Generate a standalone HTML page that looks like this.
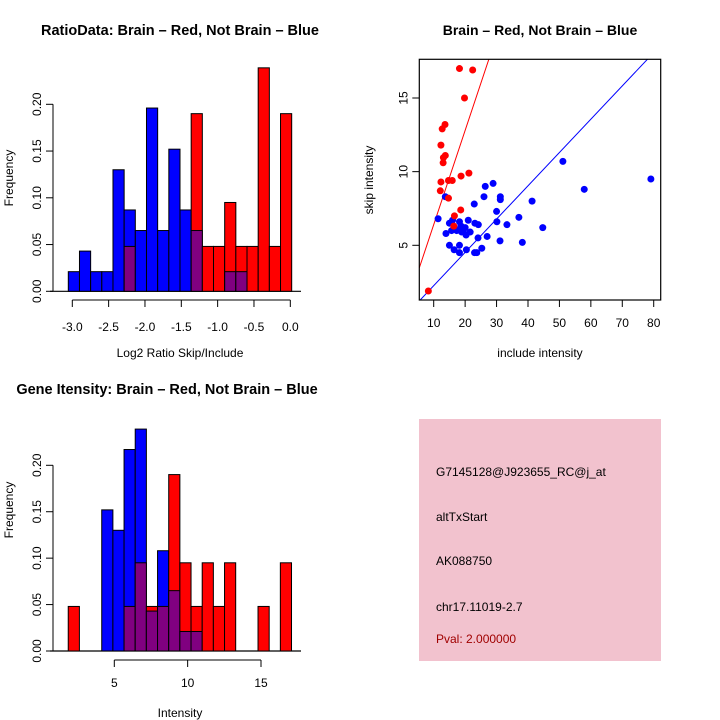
<!DOCTYPE html>
<html><head><meta charset="utf-8"><style>
html,body{margin:0;padding:0;background:#fff;}
svg{display:block;font-family:"Liberation Sans",sans-serif;}
</style></head><body>
<svg id="c" width="720" height="720" viewBox="0 0 720 720">
<rect x="0" y="0" width="720" height="720" fill="#fff"/>
<text x="180" y="35" text-anchor="middle" font-size="14.5" font-weight="bold">RatioData: Brain – Red, Not Brain – Blue</text>
<text x="540" y="35" text-anchor="middle" font-size="14" font-weight="bold">Brain – Red, Not Brain – Blue</text>
<text x="167" y="394" text-anchor="middle" font-size="14.5" font-weight="bold">Gene Itensity: Brain – Red, Not Brain – Blue</text>
<text x="180" y="357" text-anchor="middle" font-size="12">Log2 Ratio Skip/Include</text>
<text transform="translate(13,178) rotate(-90)" text-anchor="middle" font-size="12">Frequency</text>
<text x="180" y="717" text-anchor="middle" font-size="12">Intensity</text>
<text transform="translate(13,510) rotate(-90)" text-anchor="middle" font-size="12">Frequency</text>
<text x="540" y="357" text-anchor="middle" font-size="12">include intensity</text>
<text transform="translate(373,180) rotate(-90)" text-anchor="middle" font-size="12">skip intensity</text>
<g>
<rect x="419" y="419" width="242" height="242" fill="#f2c2ce"/>
<text x="436" y="476" font-size="12">G7145128@J923655_RC@j_at</text>
<text x="436" y="521" font-size="12">altTxStart</text>
<text x="436" y="565" font-size="12">AK088750</text>
<text x="436" y="611" font-size="12">chr17.11019-2.7</text>
<text x="436" y="643" font-size="12" fill="#a00000">Pval: 2.000000</text>
</g>
<g id="g1"></g><g id="g2"></g><g id="g3"></g>
</svg>
<script>
// Ratio histogram data
const ratioBinStart = -3.055;
const ratioBinWidth = 0.1537;
const ratioBlue = [0.021,0.043,0.021,0.021,0.130,0.087,0.065,0.196,0.065,0.152,0.087,0.065,0,0,0.021,0.021,0,0,0,0];
const ratioRed  = [0,0,0,0,0,0.048,0,0,0,0,0,0.190,0.048,0.048,0.095,0.048,0.048,0.239,0.048,0.190];
const ratioXTicks = [-3.0,-2.5,-2.0,-1.5,-1.0,-0.5,0.0];
const ratioXTickLabels = ["-3.0","-2.5","-2.0","-1.5","-1.0","-0.5","0.0"];
const freqTicks = [0,0.05,0.10,0.15,0.20];
const freqTickLabels = ["0.00","0.05","0.10","0.15","0.20"];
// Intensity histogram data
const intBinStart = 1.86;
const intBinWidth = 0.761;
const intBlue = [0,0,0,0.152,0.130,0.217,0.239,0.043,0.108,0.065,0.021,0.021,0,0,0,0,0,0,0,0];
const intRed  = [0.048,0,0,0,0,0.048,0.095,0.048,0.048,0.190,0.095,0.048,0.095,0.048,0.095,0,0,0.048,0,0.095];
const intXTicks = [5,10,15];
const intXTickLabels = ["5","10","15"];
// Scatter data
const redX = [18.2,22.4,19.8,13.6,12.7,12.3,13.7,13.1,13.0,21.2,18.7,12.3,14.7,15.9,12.1,14.7,18.6,16.6,16.4,8.3];
const redY = [17.0,16.9,15.0,13.2,12.9,11.8,11.1,10.95,10.6,9.9,9.7,9.3,9.4,9.4,8.7,8.2,7.4,7.0,6.3,1.9];
const blueX = [51.1,57.9,79.1,44.7,41.3,37.1,33.3,38.2,31.1,31.2,31.2,28.9,26.4,26.0,22.9,30.0,30.1,27.0,24.2,23.1,24.1,25.3,23.7,23.0,20.4,18.2,18.2,16.5,15.0,11.4,13.7,15.0,16.0,18.2,21.0,13.9,15.7,17.3,18.9,20.3,21.6,19.4,16.8,18.7,20.0];
const blueY = [10.7,8.8,9.5,6.2,8.0,6.9,6.4,5.2,5.3,8.1,8.3,9.2,9.0,8.3,7.8,7.3,6.6,5.6,6.4,6.5,5.5,4.8,4.5,4.5,4.7,5.0,4.5,4.7,5.0,6.8,8.3,6.5,6.7,6.6,6.7,5.8,6.0,6.0,5.9,5.7,5.9,6.0,6.1,6.3,6.2];
const scXTicks = [10,20,30,40,50,60,70,80];
const scYTicks = [5,10,15];
const redSlope = 0.64;
const blueSlope = 0.226;

const NS="http://www.w3.org/2000/svg";
function mk(parent,tag,attrs){const e=document.createElementNS(NS,tag);for(const k in attrs)e.setAttribute(k,attrs[k]);parent.appendChild(e);return e;}

function hist(g,blue,red,binStart,binW,xs,yf,xTicks,xLabels,axisY,labelY,yAxisX,baseL,baseR){
  mk(g,'line',{x1:baseL,x2:baseR,y1:yf(0),y2:yf(0),stroke:'#000','stroke-width':1.2});
  for(let i=0;i<blue.length;i++){
    const x0=xs(binStart+i*binW),x1=xs(binStart+(i+1)*binW);
    const b=blue[i],r=red[i];
    const hi=Math.max(b,r),lo=Math.min(b,r);
    if(hi>0){
      const r1=mk(g,'rect',{x:x0,y:yf(hi),width:x1-x0,height:yf(0)-yf(hi),fill:r>=b?'#ff0000':'#0000ff',stroke:'#000','stroke-width':1});
      
      
    }
    if(lo>0){
      const r2=mk(g,'rect',{x:x0,y:yf(lo),width:x1-x0,height:yf(0)-yf(lo),fill:'#800080',stroke:'#000','stroke-width':1});
      
      
    }
  }
  const xa=xs(xTicks[0]),xb=xs(xTicks[xTicks.length-1]);
  mk(g,'line',{x1:xa,x2:xb,y1:axisY,y2:axisY,stroke:'#000'});
  xTicks.forEach((t,i)=>{
    mk(g,'line',{x1:xs(t),x2:xs(t),y1:axisY,y2:axisY+7,stroke:'#000'});
    const tx=mk(g,'text',{x:xs(t),y:labelY,'text-anchor':'middle','font-size':12});
    tx.textContent=xLabels[i];
    
    
  });
  mk(g,'line',{x1:yAxisX,x2:yAxisX,y1:yf(0),y2:yf(0.2),stroke:'#000'});
  freqTicks.forEach((t,i)=>{
    mk(g,'line',{x1:yAxisX-7,x2:yAxisX,y1:yf(t),y2:yf(t),stroke:'#000'});
    const tx=mk(g,'text',{transform:`translate(${yAxisX-12},${yf(t)}) rotate(-90)`,'text-anchor':'middle','font-size':12});
    tx.textContent=freqTickLabels[i];
    
    
  });
}
// Top-left
const g1=document.getElementById('g1');


hist(g1,ratioBlue,ratioRed,ratioBinStart,ratioBinWidth,
  v=>72.3+(v+3)*72.67, v=>291.3-v*935, ratioXTicks,ratioXTickLabels,300,331,53,50,301);
// Bottom-left
const g3=document.getElementById('g3');


hist(g3,intBlue,intRed,intBinStart,intBinWidth,
  v=>114.3+(v-5)*14.67, v=>651-v*928.5, intXTicks,intXTickLabels,660,687,53,50,301);
// Scatter
const g2=document.getElementById('g2');


const sx=v=>433.7+(v-10)*3.143, sy=v=>245.3-(v-5)*14.73;
const L=419.3,R=660.7,T=59.3,B=300;
mk(g2,'defs',{}).innerHTML='<clipPath id="cp"><rect x="419.3" y="59.3" width="241.4" height="240.7"/></clipPath>';
const xmin=(L-433.7)/3.143+10, xmax=(R-433.7)/3.143+10;
const bl=mk(g2,'line',{x1:sx(xmin),y1:sy(blueSlope*xmin),x2:sx(xmax),y2:sy(blueSlope*xmax),stroke:'#0000ff','clip-path':'url(#cp)'});


const rl=mk(g2,'line',{x1:sx(xmin),y1:sy(redSlope*xmin),x2:sx(xmax),y2:sy(redSlope*xmax),stroke:'#ff0000','clip-path':'url(#cp)'});


blueX.forEach((x,i)=>{
  const c=mk(g2,'circle',{cx:sx(x),cy:sy(blueY[i]),r:3.5,fill:'#0000ff'});
  
  
});
redX.forEach((x,i)=>{
  const c=mk(g2,'circle',{cx:sx(x),cy:sy(redY[i]),r:3.5,fill:'#ff0000'});
  
  
});
mk(g2,'rect',{x:L,y:T,width:R-L,height:B-T,fill:'none',stroke:'#000','stroke-width':1.2});
scXTicks.forEach(t=>{
  mk(g2,'line',{x1:sx(t),x2:sx(t),y1:B,y2:B+7,stroke:'#000'});
  const tx=mk(g2,'text',{x:sx(t),y:327,'text-anchor':'middle','font-size':12});
  tx.textContent=String(t);
  
  
});
scYTicks.forEach(t=>{
  mk(g2,'line',{x1:L-7,x2:L,y1:sy(t),y2:sy(t),stroke:'#000'});
  const tx=mk(g2,'text',{transform:`translate(${L-12},${sy(t)}) rotate(-90)`,'text-anchor':'middle','font-size':12});
  tx.textContent=String(t);
  
  
});
</script>
</body></html>
